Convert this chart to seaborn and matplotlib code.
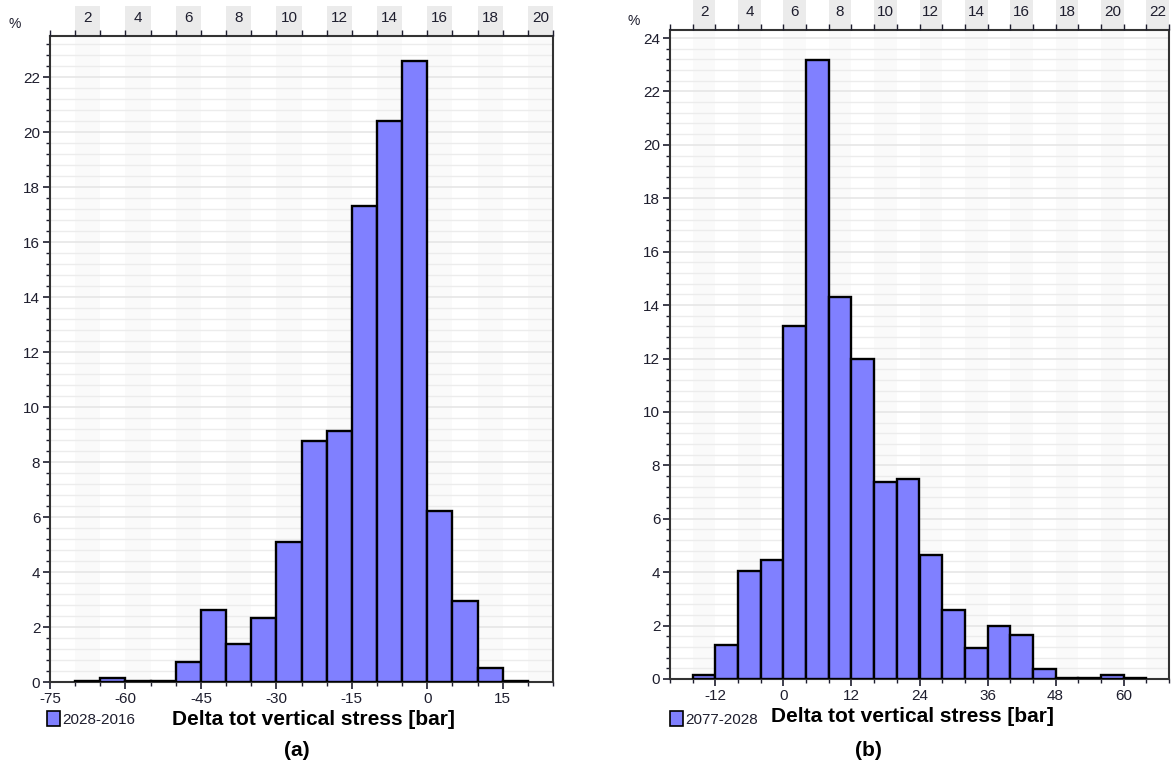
import numpy as np
import pandas as pd
import matplotlib
matplotlib.use('Agg')
import matplotlib.pyplot as plt
import matplotlib.transforms as mtransforms
from matplotlib.patches import Patch, Rectangle
from matplotlib.ticker import MultipleLocator, FixedLocator, NullFormatter, FixedFormatter
import seaborn as sns

sns.set_theme(style='white')
plt.rcParams['font.family'] = ['Liberation Sans', 'DejaVu Sans']
plt.rcParams['axes.unicode_minus'] = False

# ---------------- data ----------------
# panel (a): Delta tot vertical stress 2028-2016, bins of 5 bar starting at -70
bin_start_a = -70
bin_width_a = 5
pct_a = [0.05, 0.15, 0.03, 0.03, 0.72, 2.63, 1.38, 2.33, 5.1, 8.77, 9.12,
         17.33, 20.4, 22.6, 6.22, 2.95, 0.5, 0.05]
series_a = '2028-2016'
xticks_a = [-75, -60, -45, -30, -15, 0, 15]
xlim_a = (-75, 25)
ylim_a = (0, 23.5)
yticks_a = [0, 2, 4, 6, 8, 10, 12, 14, 16, 18, 20, 22]

# panel (b): Delta tot vertical stress 2077-2028, bins of 4 bar starting at -16
bin_start_b = -16
bin_width_b = 4
pct_b = [0.16, 1.26, 4.05, 4.45, 13.2, 23.18, 14.29, 11.97, 7.38, 7.49, 4.64,
         2.59, 1.17, 1.99, 1.66, 0.38, 0.03, 0.03, 0.15, 0.05]
series_b = '2077-2028'
xticks_b = [-12, 0, 12, 24, 36, 48, 60]
xlim_b = (-20, 68)
ylim_b = (0, 24.3)
yticks_b = [0, 2, 4, 6, 8, 10, 12, 14, 16, 18, 20, 22, 24]

xlabel = 'Delta tot vertical stress [bar]'
panel_titles = ['(a)', '(b)']

BAR = '#8080ff'
INK = '#1e1e2e'
W, H = 1173, 769

fig = plt.figure(figsize=(W / 100, H / 100), dpi=100)
fig.patch.set_facecolor('white')


def fx(px):
    return px / W


def fy(py):
    return 1 - py / H


def panel(rect, bin_start, bin_width, pct, series, xticks, xlim, ylim, yticks,
          label_x, title, title_x, pct_pos, legend_x):
    ax = fig.add_axes(rect)
    n = len(pct)
    edges = [float(bin_start + bin_width * i) for i in range(n + 1)]
    centers = [(edges[i] + edges[i + 1]) / 2 for i in range(n)]
    df = pd.DataFrame({'x': centers, 'pct': pct})

    # very faint vertical bands for even top-index bins
    nb = int(round((xlim[1] - xlim[0]) / bin_width))
    for k in range(1, nb + 1):
        if k % 2 == 0:
            x0 = xlim[0] + (k - 1) * bin_width
            ax.axvspan(x0, x0 + bin_width, color='#fafafa', zorder=0, lw=0)

    sns.histplot(data=df, x='x', weights='pct', bins=edges, ax=ax,
                 color=BAR, edgecolor='black', linewidth=1.7, alpha=1,
                 zorder=3)
    ax.set_xlim(*xlim)
    ax.set_ylim(*ylim)

    # grid
    ax.yaxis.set_minor_locator(MultipleLocator(0.4))
    ax.set_yticks(yticks)
    ax.grid(False)
    ax.grid(True, which='major', axis='y', color='#e4e4e4', lw=1.1, zorder=1)
    ax.grid(True, which='minor', axis='y', color='#ececec', lw=1, zorder=1)
    ax.set_axisbelow(True)

    ax.set_xticks(xticks)
    ax.xaxis.set_minor_locator(MultipleLocator(bin_width))
    ax.tick_params(axis='both', which='major', direction='out', length=5,
                   width=1.2, color=INK, labelsize=11, labelcolor=INK,
                   pad=2, bottom=True, left=True)
    ax.tick_params(axis='both', which='minor', direction='out', length=3,
                   width=1.0, color=INK, bottom=True, left=True)
    for s in ax.spines.values():
        s.set_visible(True)
        s.set_color('#333333')
        s.set_linewidth(1.5)

    ax.set_xlabel(xlabel, fontsize=15, fontweight='bold', color='black')
    ax.xaxis.set_label_coords(label_x, -0.043)
    ax.xaxis.label.set_va('top')
    ax.set_ylabel('%', rotation=0, fontsize=10, color=INK)
    ax.yaxis.set_label_coords(pct_pos[0], pct_pos[1])

    # top index axis
    ax_top = ax.twiny()
    ax_top.set_xlim(*xlim)
    tr = mtransforms.blended_transform_factory(ax.transData, ax.transAxes)
    box_h = 30 / (rect[3] * H)
    top_edges = [xlim[0] + bin_width * i for i in range(nb + 1)]
    lab_pos, lab_txt = [], []
    for k in range(1, nb + 1):
        if k % 2 == 0:
            x0 = xlim[0] + (k - 1) * bin_width
            ax.add_patch(Rectangle((x0, 1.0), bin_width, box_h, transform=tr,
                                   facecolor='#ebebeb', edgecolor='none',
                                   clip_on=False, zorder=0))
            lab_pos.append(x0 + bin_width / 2)
            lab_txt.append(str(k))
    ax_top.xaxis.set_major_locator(FixedLocator(top_edges))
    ax_top.xaxis.set_major_formatter(NullFormatter())
    ax_top.xaxis.set_minor_locator(FixedLocator(lab_pos))
    ax_top.xaxis.set_minor_formatter(FixedFormatter(lab_txt))
    ax_top.tick_params(axis='x', which='major', direction='out', length=4,
                       width=1.0, color=INK)
    ax_top.tick_params(axis='x', which='minor', length=0, labelsize=11,
                       labelcolor=INK, pad=8)
    ax_top.grid(False)
    for s in ax_top.spines.values():
        s.set_visible(False)

    handle = Patch(facecolor=BAR, edgecolor='black', linewidth=1.2, label=series)
    leg = ax.legend(handles=[handle], loc='center left',
                    bbox_to_anchor=(legend_x, fy(719)),
                    bbox_transform=fig.transFigure, frameon=False,
                    handlelength=0.85, handleheight=1.1, handletextpad=0.15,
                    borderpad=0, borderaxespad=0,
                    prop={'family': ['Liberation Sans'], 'size': 11})
    for t in leg.get_texts():
        t.set_color(INK)

    fig.text(title_x, fy(750), title, ha='center', va='center',
             fontsize=15, fontweight='bold', color='black')
    return ax


rect_a = [fx(50), fy(682), fx(553 - 50), (682 - 36) / H]
rect_b = [fx(670), fy(679), fx(1169 - 670), (679 - 30) / H]

panel(rect_a, bin_start_a, bin_width_a, pct_a, series_a, xticks_a, xlim_a,
      ylim_a, yticks_a, label_x=(313 - 50) / 503, title=panel_titles[0],
      title_x=fx(297), pct_pos=(-0.07, 1.008), legend_x=fx(47))
panel(rect_b, bin_start_b, bin_width_b, pct_b, series_b, xticks_b, xlim_b,
      ylim_b, yticks_b, label_x=(912 - 670) / 499, title=panel_titles[1],
      title_x=fx(868), pct_pos=(-0.072, 1.003), legend_x=fx(670))

fig.savefig('out.png', dpi=100, facecolor='white')
